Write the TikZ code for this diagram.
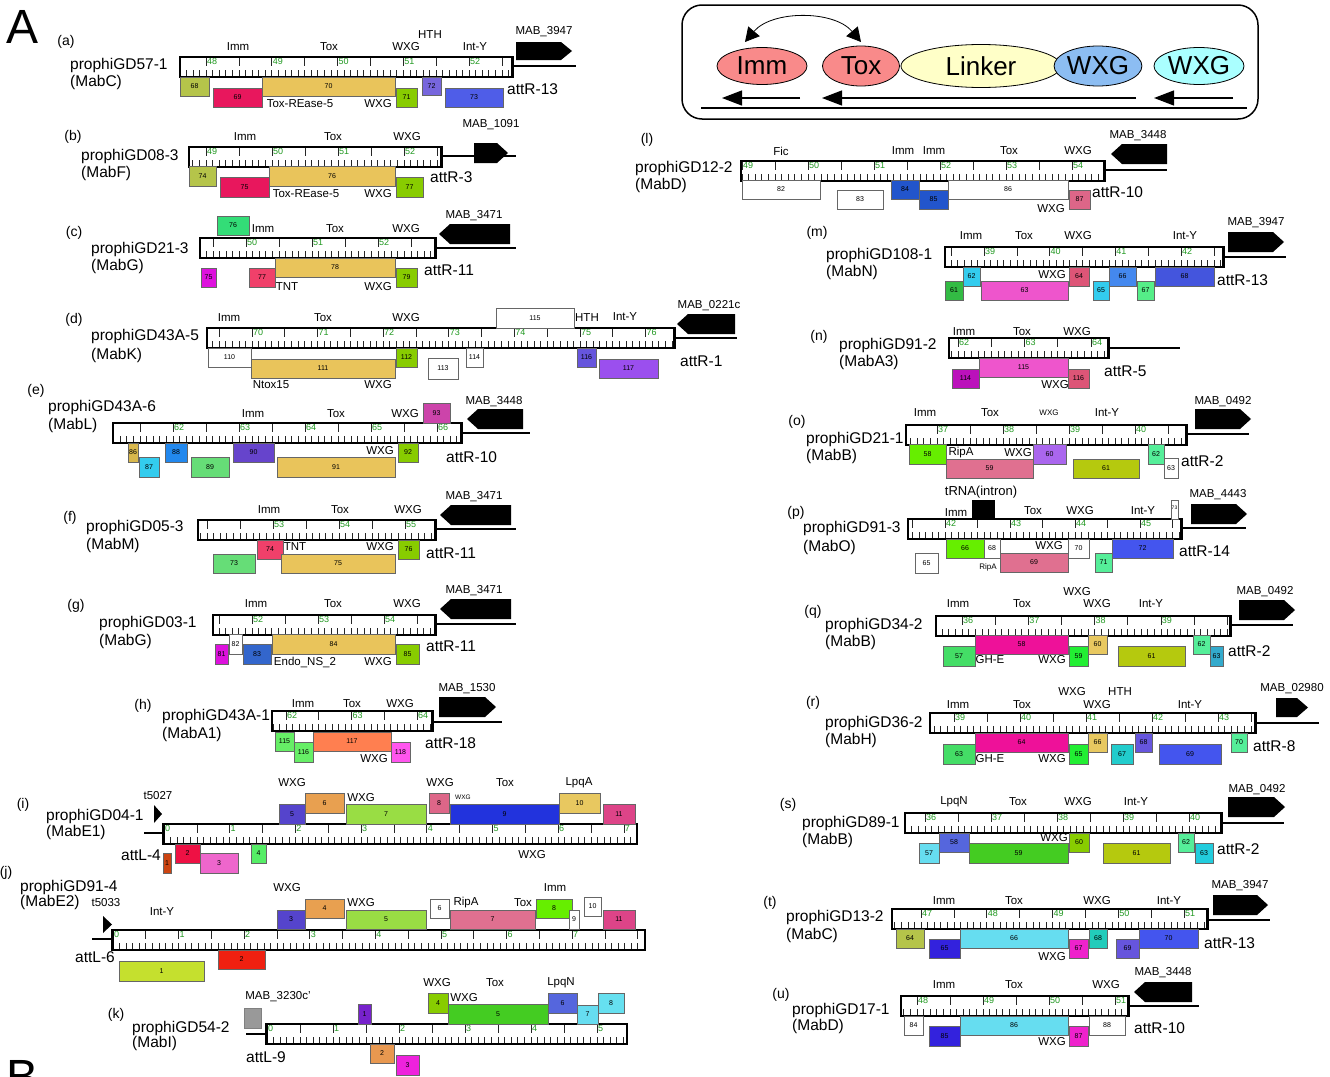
\documentclass[tikz,border=0pt]{standalone}
\usepackage{fontspec}
\setmainfont{Liberation Sans}
\usetikzlibrary{arrows.meta,shapes.geometric}
\definecolor{numg}{HTML}{229922}
\definecolor{immc}{HTML}{F98A8A}
\definecolor{linkc}{HTML}{FFFFC8}
\definecolor{wxgb}{HTML}{8CBDF2}
\definecolor{wxgc}{HTML}{AAFFFF}
\tikzset{
 gbx/.style={draw=black!60,line width=0.7},
 num/.style={font=\fontsize{7}{7}\selectfont,inner sep=0},
 lab/.style={font=\fontsize{11.5}{12}\selectfont,inner sep=0},
 slab/.style={font=\fontsize{8}{8}\selectfont,inner sep=0},
 mab/.style={font=\fontsize{11.5}{12}\selectfont,inner sep=0},
 pan/.style={font=\fontsize{14}{14}\selectfont,inner sep=0},
 nm/.style={font=\fontsize{15.5}{16}\selectfont,inner sep=0,anchor=west},
 att/.style={font=\fontsize{15.5}{16}\selectfont,inner sep=0,anchor=west},
 grn/.style={font=\fontsize{9}{9}\selectfont,text=numg,inner sep=0,anchor=north west},
 tick/.style={line width=0.65,black!85},
 ln/.style={line width=1.2},
 ell/.style={ellipse,draw,line width=0.8,inner sep=0,font=\fontsize{26}{26}\selectfont},
 bigarr/.style={line width=1.3,-{Triangle[length=20,width=15]}},
}
\newcommand\gdRuler[8]{%
 \fill[white] (#1,#3) rectangle (#2,#3+20);
 \begin{scope}
 \clip (#1,#3) rectangle (#2,#3+20);
 \foreach \k in {-20,...,85} {\draw[tick] ({#4+\k*#5/10},#3+20) -- ++(0,-7);}
 \foreach \k in {-4,...,17} {\draw[tick] ({#4+\k*#5/2},#3) -- ++(0,9);}
 \end{scope}
 \foreach \n in {#6,...,#7} {\node[grn] at ({#4+(\n-#6)*#5+0.8},#3+1.5) {\n};}
 \draw[line width=1.3] (#1,#3) rectangle (#2,#3+20);
 \ifx L#8 \draw[line width=3] (#1+0.5,#3) -- (#1+0.5,#3+20);\else\draw[line width=3] (#2-0.5,#3) -- (#2-0.5,#3+20);\fi
}
\newcommand\gnb[6]{\definecolor{tmpc}{HTML}{#5}\draw[gbx,fill=tmpc] (#1,#2) rectangle (#3,#4); \node[num] at ({(#1+#3)/2},{(#2+#4)/2}) {#6};}
\newcommand\marR[4]{\fill (#1,#2) -- (#3-11,#2) -- (#3,{(#2+#4)/2}) -- (#3-11,#4) -- (#1,#4) -- cycle;}
\newcommand\marL[4]{\fill (#3,#2) -- (#1+11,#2) -- (#1,{(#2+#4)/2}) -- (#1+11,#4) -- (#3,#4) -- cycle;}
\begin{document}
\begin{tikzpicture}[x=1pt,y=-1pt]
\useasboundingbox (0,0) rectangle (1330,1076);
\node[font=\fontsize{48}{48}\selectfont,inner sep=0,anchor=base west] (A) at (6,43) {A};
\node[font=\fontsize{48}{48}\selectfont,inner sep=0,anchor=base west] (B) at (6,1093) {B};
% ---------- legend
\draw[line width=1.5,rounded corners=20] (682,5) rectangle (1258,119);
\node[ell,fill=linkc,minimum width=160,minimum height=43] (link) at (981,66) {Linker};
\node[ell,fill=immc,minimum width=90,minimum height=37] (imm) at (762,66) {Imm};
\node[ell,fill=immc,minimum width=77,minimum height=40] (tox) at (861,66) {Tox};
\node[ell,fill=wxgb,minimum width=77,minimum height=40] (wxg1) at (1098,66) {WXG};
\node[ell,fill=wxgc,minimum width=90,minimum height=37] (wxg2) at (1199,66) {WXG};
\coordinate (c1) at (745,42); \coordinate (c2) at (861,42);
\draw[line width=0.8,{Triangle[length=14,width=15]}-{Triangle[length=14,width=15]}] (c1) .. controls (772,10) and (834,10) .. (c2);
\coordinate (b1s) at (800,98); \coordinate (b1e) at (722,98);
\coordinate (b2s) at (1136,98); \coordinate (b2e) at (822,98);
\coordinate (b3s) at (1233,98); \coordinate (b3e) at (1154,98);
\draw[bigarr] (b1s) -- (b1e);
\draw[bigarr] (b2s) -- (b2e);
\draw[bigarr] (b3s) -- (b3e);
\draw[line width=1.3] (701,108) -- (1247,108);
% ---------- (a)
\node[pan] at (66,42) {(a)};
\node[nm] at (70,65) {prophiGD57-1}; \node[nm] at (70,82) {(MabC)};
\gdRuler{180}{513}{57}{206}{65.75}{48}{52}{R}
\draw[ln] (513,66) -- (576,66);
\marR{516}{42}{572}{60}
\node[mab] at (544,32) {MAB\_3947};
\node[lab] at (238,47) {Imm}; \node[lab] at (329,47) {Tox}; \node[lab] at (406,47) {WXG};
\node[lab] at (430,35) {HTH}; \node[lab] at (475,47) {Int-Y};
\gnb{180}{77}{209}{96}{B5C44A}{68}
\gnb{213}{88}{262}{107}{E8175D}{69}
\gnb{262}{77}{395}{96}{E9C45B}{70}
\gnb{396}{88}{417}{107}{88CC00}{71}
\gnb{422}{77}{441}{95}{7766DD}{72}
\gnb{445}{88}{503}{107}{4F5DE8}{73}
\node[lab] at (300,104) {Tox-REase-5}; \node[lab] at (378,104) {WXG};
\node[att] at (507,89) {attR-13};
% ---------- (b)
\node[pan] at (73,137) {(b)};
\node[nm] at (81,156) {prophiGD08-3}; \node[nm] at (81,173) {(MabF)};
\gdRuler{189}{442}{147}{206}{66}{49}{52}{R}
\draw[ln] (442,156) -- (516,156);
\marR{474}{143}{508}{163}
\node[mab] at (491,125) {MAB\_1091};
\node[lab] at (245,137) {Imm}; \node[lab] at (333,137) {Tox}; \node[lab] at (407,137) {WXG};
\gnb{189}{166}{216}{186}{B5C44A}{74}
\gnb{220}{177}{269}{197}{E8175D}{75}
\gnb{269}{166}{395}{186}{E9C45B}{76}
\gnb{396}{177}{423}{197}{88CC00}{77}
\node[lab] at (306,194) {Tox-REase-5}; \node[lab] at (378,194) {WXG};
\node[att] at (430,177) {attR-3};
% ---------- (c)
\node[pan] at (74,233) {(c)};
\node[nm] at (91,249) {prophiGD21-3}; \node[nm] at (91,266) {(MabG)};
\gdRuler{200}{436}{238}{246}{66}{50}{52}{R}
\draw[ln] (436,248) -- (516,248);
\marL{439}{224}{510}{244}
\node[mab] at (474,216) {MAB\_3471};
\node[lab] at (263,229) {Imm}; \node[lab] at (335,229) {Tox}; \node[lab] at (406,229) {WXG};
\gnb{217}{216}{249}{235}{33DD77}{76}
\gnb{201}{268}{216}{287}{DD11DD}{75}
\gnb{249}{268}{275}{287}{F0406A}{77}
\gnb{275}{258}{395}{277}{E9C45B}{78}
\gnb{396}{268}{417}{287}{88CC00}{79}
\node[lab] at (287,287) {TNT}; \node[lab] at (378,287) {WXG};
\node[att] at (424,270) {attR-11};
% ---------- (d)
\node[pan] at (74,320) {(d)};
\node[nm] at (91,336) {prophiGD43A-5}; \node[nm] at (91,355) {(MabK)};
\gdRuler{207}{675}{328}{252}{65.6}{70}{76}{R}
\draw[ln] (675,338) -- (737,338);
\marL{677}{314}{735}{334}
\node[mab] at (709,306) {MAB\_0221c};
\node[lab] at (229,318) {Imm}; \node[lab] at (323,318) {Tox}; \node[lab] at (406,318) {WXG};
\node[lab] at (587,318) {HTH}; \node[lab] at (625,317) {Int-Y};
\gnb{496}{308}{574}{328}{FFFFFF}{115}
\gnb{208}{348}{251}{367}{FFFFFF}{110}
\gnb{251}{359}{395}{378}{E9C45B}{111}
\gnb{396}{348}{417}{367}{88CC00}{112}
\gnb{428}{358}{458}{379}{FFFFFF}{113}
\gnb{466}{348}{483}{367}{FFFFFF}{114}
\gnb{577}{348}{596}{367}{6655DD}{116}
\gnb{599}{359}{658}{378}{9B4FEE}{117}
\node[lab] at (271,385) {Ntox15}; \node[lab] at (378,385) {WXG};
\node[att] at (680,361) {attR-1};
% ---------- (e)
\node[pan] at (36,391) {(e)};
\node[nm] at (48,407) {prophiGD43A-6}; \node[nm] at (48,425) {(MabL)};
\gdRuler{113}{462}{423}{173}{66}{62}{66}{R}
\draw[ln] (462,433) -- (530,433);
\marL{467}{409}{523}{429}
\node[mab] at (494,402) {MAB\_3448};
\node[lab] at (253,414) {Imm}; \node[lab] at (336,414) {Tox}; \node[lab] at (405,414) {WXG};
\gnb{423}{403}{450}{423}{CC44AA}{93}
\gnb{128}{443}{138}{462}{D9B84C}{86}
\gnb{139}{457}{159}{477}{33CCEE}{87}
\gnb{165}{443}{187}{462}{2288EE}{88}
\gnb{191}{457}{229}{477}{66DD77}{89}
\gnb{233}{443}{274}{462}{6644CC}{90}
\gnb{277}{457}{395}{477}{E9C45B}{91}
\gnb{398}{443}{418}{462}{88CC00}{92}
\node[lab] at (380,451) {WXG};
\node[att] at (446,457) {attR-10};
% ---------- (f)
\node[pan] at (70,518) {(f)};
\node[nm] at (86,527) {prophiGD05-3}; \node[nm] at (86,545) {(MabM)};
\gdRuler{198}{436}{520}{273}{66}{53}{55}{R}
\draw[ln] (436,529) -- (516,529);
\marL{440}{505}{511}{525}
\node[mab] at (474,497) {MAB\_3471};
\node[lab] at (269,510) {Imm}; \node[lab] at (340,510) {Tox}; \node[lab] at (408,510) {WXG};
\gnb{257}{540}{283}{559}{F0406A}{74}
\gnb{213}{554}{255}{573}{66DD77}{73}
\gnb{281}{554}{395}{573}{E9C45B}{75}
\gnb{398}{540}{419}{559}{88CC00}{76}
\node[lab] at (295,547) {TNT}; \node[lab] at (380,547) {WXG};
\node[att] at (426,553) {attR-11};
% ---------- (g)
\node[pan] at (76,606) {(g)};
\node[nm] at (99,623) {prophiGD03-1}; \node[nm] at (99,641) {(MabG)};
\gdRuler{213}{436}{615}{252}{66}{52}{54}{R}
\draw[ln] (436,624) -- (516,624);
\marL{440}{599}{511}{619}
\node[mab] at (474,591) {MAB\_3471};
\node[lab] at (256,604) {Imm}; \node[lab] at (333,604) {Tox}; \node[lab] at (407,604) {WXG};
\gnb{229}{634}{242}{654}{FFFFFF}{82}
\gnb{215}{644}{228}{664}{DD11DD}{81}
\gnb{243}{644}{271}{664}{3366CC}{83}
\gnb{272}{634}{395}{654}{E9C45B}{84}
\gnb{396}{644}{419}{664}{88CC00}{85}
\node[lab] at (305,662) {Endo\_NS\_2}; \node[lab] at (378,662) {WXG};
\node[att] at (426,646) {attR-11};
% ---------- (h)
\node[pan] at (143,706) {(h)};
\node[nm] at (162,716) {prophiGD43A-1}; \node[nm] at (162,734) {(MabA1)};
\gdRuler{272}{433}{711}{286}{65.5}{62}{64}{R}
\draw[ln] (433,722) -- (502,722);
\marR{439}{697}{496}{717}
\node[mab] at (467,689) {MAB\_1530};
\node[lab] at (303,704) {Imm}; \node[lab] at (352,704) {Tox}; \node[lab] at (400,704) {WXG};
\gnb{275}{732}{294}{751}{66EE66}{115}
\gnb{294}{742}{313}{762}{66EE66}{116}
\gnb{313}{732}{391}{751}{FF7F50}{117}
\gnb{391}{742}{410}{762}{FF55EE}{118}
\node[lab] at (374,759) {WXG};
\node[att] at (425,743) {attR-18};
% ---------- (i)
\node[pan] at (23,805) {(i)};
\node[nm] at (46,816) {prophiGD04-1}; \node[nm] at (46,832) {(MabE1)};
\node[lab] at (158,796) {t5027};
\fill (154,805) -- (162,814) -- (154,823) -- cycle;
\gdRuler{163}{637}{824}{164}{65.7}{0}{7}{L}
\draw[ln] (144,833) -- (163,833);
\gnb{279}{804}{305}{824}{5544CC}{5}
\gnb{305}{793}{344}{813}{E8A050}{6}
\gnb{346}{804}{426}{824}{99DD44}{7}
\gnb{429}{793}{449}{813}{DD6688}{8}
\gnb{450}{804}{559}{824}{2233DD}{9}
\gnb{559}{793}{600}{813}{E8C860}{10}
\gnb{603}{804}{635}{824}{DD4488}{11}
\gnb{175}{844}{200}{863}{EE1144}{2}
\gnb{163}{853}{171}{873}{CC4411}{1}
\gnb{200}{853}{238}{873}{EE66CC}{3}
\gnb{251}{844}{266}{863}{55EE66}{4}
\node[lab] at (292,783) {WXG}; \node[lab] at (361,798) {WXG}; \node[lab] at (440,783) {WXG};
\node[font=\fontsize{6.5}{7}\selectfont,inner sep=0] at (463,797) {WXG};
\node[lab] at (505,783) {Tox}; \node[lab] at (579,783) {LpqA};
\node[att] at (121,855) {attL-4}; \node[lab] at (532,855) {WXG};
% ---------- (j)
\node[pan] at (6,873) {(j)};
\node[nm] at (20,887) {prophiGD91-4}; \node[nm] at (20,902) {(MabE2)};
\node[lab] at (106,903) {t5033};
\fill (103,916) -- (112,924.5) -- (103,933) -- cycle;
\node[lab] at (162,912) {Int-Y};
\gdRuler{112}{645}{930}{113}{65.6}{0}{7}{L}
\draw[ln] (92,939) -- (112,939);
\gnb{277}{910}{305}{929}{5544CC}{3}
\gnb{305}{899}{344}{918}{E8A050}{4}
\gnb{346}{910}{426}{929}{99DD44}{5}
\gnb{430}{899}{449}{918}{FFFFFF}{6}
\gnb{450}{910}{535}{929}{E07090}{7}
\gnb{536}{899}{572}{918}{66EE00}{8}
\gnb{569}{910}{579}{929}{FFFFFF}{9}
\gnb{584}{897}{601}{916}{FFFFFF}{10}
\gnb{603}{910}{635}{929}{DD4488}{11}
\node[lab] at (287,888) {WXG}; \node[lab] at (361,903) {WXG}; \node[lab] at (466,903) {RipA};
\node[lab] at (523,903) {Tox}; \node[lab] at (555,888) {Imm};
\node[att] at (75,957) {attL-6};
\gnb{119}{961}{204}{981}{C5E02E}{1}
\gnb{218}{950}{265}{969}{F02010}{2}
% ---------- (k)
\node[pan] at (116,1015) {(k)};
\node[nm] at (132,1028) {prophiGD54-2}; \node[nm] at (132,1043) {(MabI)};
\node[mab] at (278,997) {MAB\_3230c'};
\draw[draw=black!50,fill=black!40] (244,1008) rectangle (261,1028);
\gdRuler{266}{627}{1024}{267}{66}{0}{5}{L}
\draw[ln] (246,1034) -- (266,1034);
\gnb{358}{1004}{371}{1024}{7722CC}{1}
\gnb{428}{993}{448}{1013}{88CC00}{4}
\gnb{448}{1004}{548}{1024}{44CC22}{5}
\gnb{548}{993}{577}{1013}{5566DD}{6}
\gnb{577}{1005}{598}{1024}{66DDF0}{7}
\gnb{598}{993}{624}{1013}{66E0F0}{8}
\gnb{370}{1044}{394}{1063}{E89850}{2}
\gnb{396}{1055}{419}{1075}{EE22DD}{3}
\node[lab] at (437,983) {WXG}; \node[lab] at (495,983) {Tox}; \node[lab] at (561,983) {LpqN};
\node[lab] at (464,998) {WXG};
\node[att] at (246,1057) {attL-9};
% ---------- (l)
\node[pan] at (647,140) {(l)};
\node[nm] at (635,168) {prophiGD12-2}; \node[nm] at (635,185) {(MabD)};
\gdRuler{741}{1105}{161}{742}{66}{49}{54}{R}
\draw[ln] (1105,170) -- (1167,170);
\marL{1111}{144}{1167}{164}
\node[mab] at (1138,136) {MAB\_3448};
\node[lab] at (781,151) {Fic}; \node[lab] at (903,151) {Imm}; \node[lab] at (934,151) {Imm};
\node[lab] at (1009,151) {Tox}; \node[lab] at (1078,151) {WXG};
\gnb{742}{180}{820}{199}{FFFFFF}{82}
\gnb{837}{190}{883}{209}{FFFFFF}{83}
\gnb{891}{180}{919}{199}{2255CC}{84}
\gnb{919}{190}{948}{209}{2255CC}{85}
\gnb{948}{180}{1068}{199}{FFFFFF}{86}
\gnb{1069}{190}{1090}{209}{DD6688}{87}
\node[lab] at (1051,209) {WXG};
\node[att] at (1092,192) {attR-10};
% ---------- (m)
\node[pan] at (817,233) {(m)};
\node[nm] at (826,255) {prophiGD108-1}; \node[nm] at (826,272) {(MabN)};
\gdRuler{945}{1224}{247}{984}{65.7}{39}{42}{R}
\draw[ln] (1224,257) -- (1286,257);
\marR{1228}{232}{1284}{252}
\node[mab] at (1256,223) {MAB\_3947};
\node[lab] at (971,236) {Imm}; \node[lab] at (1024,236) {Tox}; \node[lab] at (1078,236) {WXG}; \node[lab] at (1185,236) {Int-Y};
\gnb{963}{267}{980}{286}{33CCEE}{62}
\gnb{945}{281}{963}{300}{33BB44}{61}
\gnb{981}{281}{1068}{300}{EE55CC}{63}
\gnb{1069}{267}{1089}{286}{DD5577}{64}
\gnb{1093}{281}{1109}{300}{33CCEE}{65}
\gnb{1109}{267}{1136}{286}{4488EE}{66}
\gnb{1137}{281}{1154}{300}{55EE88}{67}
\gnb{1155}{267}{1214}{286}{4455DD}{68}
\node[lab] at (1052,275) {WXG};
\node[att] at (1217,280) {attR-13};
% ---------- (n)
\node[pan] at (819,337) {(n)};
\node[nm] at (839,345) {prophiGD91-2}; \node[nm] at (839,362) {(MabA3)};
\gdRuler{949}{1109}{338}{958}{66.5}{62}{64}{R}
\draw[ln] (1109,348) -- (1180,348);
\node[lab] at (964,332) {Imm}; \node[lab] at (1022,332) {Tox}; \node[lab] at (1077,332) {WXG};
\gnb{952}{369}{979}{388}{BB11BB}{114}
\gnb{979}{358}{1068}{377}{EE55CC}{115}
\gnb{1068}{369}{1089}{388}{DD5577}{116}
\node[lab] at (1055,385) {WXG};
\node[att] at (1104,371) {attR-5};
% ---------- (o)
\node[pan] at (797,422) {(o)};
\node[nm] at (806,439) {prophiGD21-1}; \node[nm] at (806,456) {(MabB)};
\gdRuler{906}{1187}{425}{937}{66}{37}{40}{R}
\draw[ln] (1187,434) -- (1249,434);
\marR{1195}{409}{1251}{429}
\node[mab] at (1223,402) {MAB\_0492};
\node[lab] at (925,413) {Imm}; \node[lab] at (990,413) {Tox}; \node[slab] at (1049,413) {WXG}; \node[lab] at (1107,413) {Int-Y};
\gnb{909}{444}{946}{464}{66EE00}{58}
\gnb{946}{459}{1033}{478}{E07090}{59}
\gnb{1033}{444}{1066}{464}{AA66EE}{60}
\gnb{1073}{459}{1139}{478}{B5C90E}{61}
\gnb{1148}{444}{1164}{464}{55EE99}{62}
\gnb{1164}{458}{1178}{478}{FFFFFF}{63}
\node[lab] at (961,453) {RipA}; \node[lab] at (1018,453) {WXG};
\node[att] at (1181,461) {attR-2};
% ---------- (p)
\node[font=\fontsize{13}{13}\selectfont,inner sep=0] at (981,492) {tRNA(intron)};
\node[pan] at (796,513) {(p)};
\node[nm] at (803,528) {prophiGD91-3}; \node[nm] at (803,547) {(MabO)};
\gdRuler{908}{1182}{519}{945}{65}{42}{45}{R}
\fill (972,500) rectangle (995,519);
\draw[gbx,fill=white] (1171,500) rectangle (1178,519);
\node[font=\fontsize{5}{5}\selectfont,inner sep=0] at (1174.5,508) {73};
\draw[ln] (1182,528) -- (1246,528);
\marR{1191}{504}{1247}{524}
\node[mab] at (1218,495) {MAB\_4443};
\node[lab] at (956,513) {Imm}; \node[lab] at (1033,511) {Tox}; \node[lab] at (1080,511) {WXG}; \node[lab] at (1143,511) {Int-Y};
\gnb{946}{539}{984}{558}{66EE00}{66}
\gnb{984}{539}{1000}{558}{FFFFFF}{68}
\gnb{1000}{553}{1068}{572}{E07090}{69}
\gnb{1068}{539}{1089}{558}{FFFFFF}{70}
\gnb{1095}{553}{1112}{572}{55EE99}{71}
\gnb{1112}{539}{1173}{558}{4455EE}{72}
\gnb{915}{553}{938}{573}{FFFFFF}{65}
\node[lab] at (1049,546) {WXG};
\node[slab] at (988,567) {RipA};
\node[att] at (1179,551) {attR-14};
% ---------- (q)
\node[pan] at (813,612) {(q)};
\node[nm] at (825,625) {prophiGD34-2}; \node[nm] at (825,642) {(MabB)};
\gdRuler{936}{1231}{616}{962}{66.3}{36}{39}{R}
\draw[ln] (1231,625) -- (1293,625);
\marR{1239}{600}{1295}{620}
\node[mab] at (1265,592) {MAB\_0492};
\node[lab] at (1077,592) {WXG};
\node[lab] at (958,604) {Imm}; \node[lab] at (1022,604) {Tox}; \node[lab] at (1097,604) {WXG}; \node[lab] at (1151,604) {Int-Y};
\gnb{943}{646}{975}{666}{44DD66}{57}
\gnb{975}{635}{1068}{654}{EE1199}{58}
\gnb{1069}{646}{1088}{666}{22EE33}{59}
\gnb{1088}{635}{1107}{654}{E8C860}{60}
\gnb{1118}{646}{1185}{666}{B5C90E}{61}
\gnb{1193}{635}{1210}{654}{55EE99}{62}
\gnb{1210}{646}{1223}{666}{33AACC}{63}
\node[lab] at (990,660) {GH-E}; \node[lab] at (1052,660) {WXG};
\node[att] at (1228,651) {attR-2};
% ---------- (r)
\node[pan] at (813,703) {(r)};
\node[nm] at (825,723) {prophiGD36-2}; \node[nm] at (825,740) {(MabH)};
\gdRuler{930}{1256}{713}{954}{66}{39}{43}{R}
\draw[ln] (1256,723) -- (1319,723);
\marR{1276}{698}{1308}{717}
\node[mab] at (1292,689) {MAB\_02980};
\node[lab] at (1072,692) {WXG}; \node[lab] at (1120,692) {HTH};
\node[lab] at (958,705) {Imm}; \node[lab] at (1022,705) {Tox}; \node[lab] at (1097,705) {WXG}; \node[lab] at (1190,705) {Int-Y};
\gnb{943}{744}{975}{764}{44DD66}{63}
\gnb{975}{733}{1068}{752}{EE1199}{64}
\gnb{1069}{744}{1088}{764}{22EE33}{65}
\gnb{1088}{733}{1107}{752}{E8C860}{66}
\gnb{1111}{744}{1133}{764}{22CCCC}{67}
\gnb{1135}{733}{1152}{752}{6655DD}{68}
\gnb{1159}{744}{1221}{764}{4455EE}{69}
\gnb{1231}{733}{1247}{752}{55EE99}{70}
\node[lab] at (990,759) {GH-E}; \node[lab] at (1052,759) {WXG};
\node[att] at (1253,746) {attR-8};
% ---------- (s)
\node[pan] at (788,805) {(s)};
\node[nm] at (802,823) {prophiGD89-1}; \node[nm] at (802,840) {(MabB)};
\gdRuler{905}{1222}{813}{925}{66}{36}{40}{R}
\draw[ln] (1222,823) -- (1284,823);
\marR{1228}{797}{1285}{817}
\node[mab] at (1257,790) {MAB\_0492};
\node[lab] at (954,802) {LpqN}; \node[lab] at (1018,802) {Tox}; \node[lab] at (1078,802) {WXG}; \node[lab] at (1136,802) {Int-Y};
\gnb{939}{833}{969}{852}{5566DD}{58}
\gnb{919}{843}{939}{863}{66DDF0}{57}
\gnb{969}{843}{1068}{863}{44CC22}{59}
\gnb{1069}{833}{1089}{852}{88CC00}{60}
\gnb{1103}{843}{1170}{863}{B5C90E}{61}
\gnb{1178}{833}{1194}{852}{55EE99}{62}
\gnb{1195}{843}{1213}{863}{22CCDD}{63}
\node[lab] at (1054,838) {WXG};
\node[att] at (1217,849) {attR-2};
% ---------- (t)
\node[pan] at (770,903) {(t)};
\node[nm] at (786,917) {prophiGD13-2}; \node[nm] at (786,935) {(MabC)};
\gdRuler{892}{1208}{909}{921}{65.8}{47}{51}{R}
\draw[ln] (1208,920) -- (1270,920);
\marR{1213}{895}{1268}{915}
\node[mab] at (1240,886) {MAB\_3947};
\node[lab] at (944,901) {Imm}; \node[lab] at (1014,901) {Tox}; \node[lab] at (1097,901) {WXG}; \node[lab] at (1169,901) {Int-Y};
\gnb{896}{929}{924}{948}{B5C44A}{64}
\gnb{929}{939}{960}{958}{3322DD}{65}
\gnb{960}{929}{1068}{948}{66DDF0}{66}
\gnb{1069}{939}{1088}{958}{EE22CC}{67}
\gnb{1089}{929}{1107}{948}{22CCBB}{68}
\gnb{1116}{939}{1139}{958}{6655DD}{69}
\gnb{1139}{929}{1198}{948}{4455EE}{70}
\node[lab] at (1052,957) {WXG};
\node[att] at (1204,943) {attR-13};
% ---------- (u)
\node[pan] at (781,995) {(u)};
\node[nm] at (792,1010) {prophiGD17-1}; \node[nm] at (792,1026) {(MabD)};
\gdRuler{901}{1129}{996}{917}{66}{48}{51}{R}
\draw[ln] (1129,1006) -- (1199,1006);
\marL{1134}{982}{1192}{1002}
\node[mab] at (1163,973) {MAB\_3448};
\node[lab] at (944,985) {Imm}; \node[lab] at (1014,985) {Tox}; \node[lab] at (1106,985) {WXG};
\gnb{904}{1016}{923}{1035}{FFFFFF}{84}
\gnb{929}{1026}{960}{1046}{3322DD}{85}
\gnb{960}{1016}{1068}{1035}{66DDF0}{86}
\gnb{1069}{1026}{1088}{1046}{EE22CC}{87}
\gnb{1089}{1016}{1125}{1035}{FFFFFF}{88}
\node[lab] at (1052,1042) {WXG};
\node[att] at (1134,1028) {attR-10};
\end{tikzpicture}
\end{document}
